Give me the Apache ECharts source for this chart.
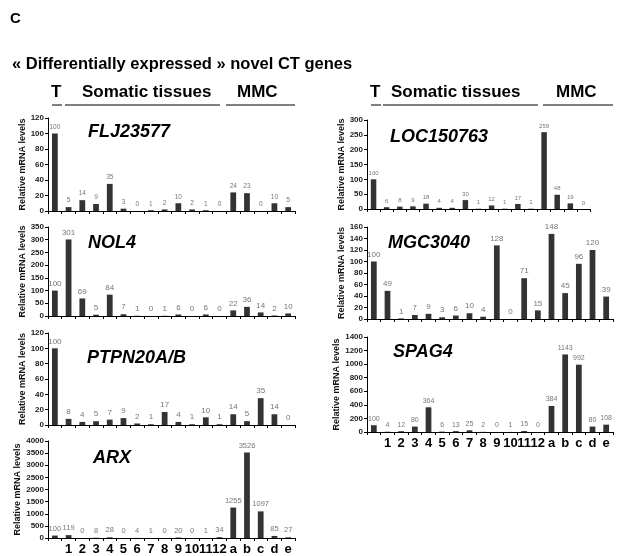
<!DOCTYPE html>
<html><head><meta charset="utf-8">
<script src="https://cdn.jsdelivr.net/npm/echarts@6/dist/echarts.min.js"></script>
<style>html,body{margin:0;padding:0;background:#fff}#c{width:620px;height:556px}</style>
</head><body><div id="c"></div>
<script>
const categories = ['T','1','2','3','4','5','6','7','8','9','10','11','12','a','b','c','d','e'];
const categoriesLOC = categories.slice(0, 17);
const FLJ23577 = [100,5,14,9,35,3,0,1,2,10,2,1,0,24,23,0,10,5];
const NOL4 = [100,301,69,5,84,7,1,0,1,6,0,6,0,22,36,14,2,10];
const PTPN20AB = [100,8,4,5,7,9,2,1,17,4,1,10,1,14,5,35,14,0];
const ARX = [100,119,0,8,28,0,4,1,0,20,0,1,34,1255,3526,1097,85,27];
const LOC150763 = [100,6,8,9,18,4,4,30,1,12,1,17,1,259,48,19,0];
const MGC3040 = [100,49,1,7,9,3,6,10,4,128,0,71,15,148,45,96,120,39];
const SPAG4 = [100,4,12,80,364,6,13,25,2,0,1,15,0,384,1143,992,80,108];

const panels = [
  {name:'FLJ23577', data:FLJ23577, cats:categories, max:120, step:20, grid:{left:48,top:118,width:247,height:93}, gx:83, gy:118, lf:6.5, xl:false},
  {name:'NOL4', data:NOL4, cats:categories, max:350, step:50, grid:{left:48,top:227,width:247,height:89}, gx:83, gy:229, lf:8, xl:false},
  {name:'PTPN20A/B', data:PTPN20AB, cats:categories, max:120, step:20, grid:{left:48,top:333,width:247,height:92}, gx:82, gy:344, lf:8, xl:false},
  {name:'ARX', data:ARX, cats:categories, max:4000, step:500, grid:{left:48,top:441,width:247,height:99}, gx:88, gy:444, lf:7.5, xl:true},
  {name:'LOC150763', data:LOC150763, cats:categoriesLOC, max:300, step:50, grid:{left:367,top:120,width:223,height:89}, gx:385, gy:123, lf:6, xl:false},
  {name:'MGC3040', data:MGC3040, cats:categories, max:160, step:20, grid:{left:367,top:227,width:246,height:92}, gx:383, gy:229, lf:8, xl:false},
  {name:'SPAG4', data:SPAG4, cats:categories, max:1400, step:200, grid:{left:367,top:337,width:246,height:95}, gx:388, gy:338, lf:7, xl:true}
];

const F = 'Liberation Sans, Arial, sans-serif';
const grid = [], xAxis = [], yAxis = [], series = [], title = [];
panels.forEach((p, i) => {
  grid.push(Object.assign({containLabel:false}, p.grid));
  xAxis.push({
    type:'category', gridIndex:i, data:p.cats,
    axisLine:{lineStyle:{color:'#000', width:1}},
    axisTick:{show:true, interval:0, length:3, lineStyle:{color:'#000'}},
    axisLabel:{show:p.xl, interval:0, hideOverlap:false, margin:5, color:'#000', fontFamily:F, fontWeight:'bold', fontSize:13,
      formatter:v => v === 'T' ? '' : v}
  });
  yAxis.push({
    type:'value', gridIndex:i, min:0, max:p.max, interval:p.step,
    name:'Relative mRNA levels', nameLocation:'middle', nameGap:21,
    nameTextStyle:{fontFamily:F, fontWeight:'bold', fontSize:9, color:'#111'},
    axisLine:{show:true, lineStyle:{color:'#000'}},
    axisTick:{show:true, length:3, lineStyle:{color:'#000'}},
    splitLine:{show:false},
    axisLabel:{color:'#222', fontFamily:F, fontWeight:'bold', fontSize:8, margin:4, formatter:v => String(v)}
  });
  series.push({
    type:'bar', xAxisIndex:i, yAxisIndex:i, data:p.data, barWidth:'42%',
    itemStyle:{color:'#333'},
    label:{show:true, position:'top', distance:3, color:'#777', fontFamily:F, fontSize:p.lf}
  });
  title.push({text:p.name, left:p.gx, top:p.gy,
    textStyle:{fontFamily:F, fontWeight:'bold', fontStyle:'italic', fontSize:18, color:'#000'}});
});
title.push({text:'C', left:5, top:6, textStyle:{fontFamily:F, fontWeight:'bold', fontSize:15, color:'#000'}});
title.push({text:'« Differentially expressed » novel CT genes', left:7, top:51, textStyle:{fontFamily:F, fontWeight:'bold', fontSize:16.5, color:'#000'}});

const hdr = (x, y, t) => ({type:'text', left:x, top:y, style:{text:t, fill:'#000', font:'bold 17px ' + F}});
const ln = (x1, x2, y) => ({type:'line', shape:{x1:x1, y1:y, x2:x2, y2:y}, style:{stroke:'#000', lineWidth:1}});
const graphic = [
  hdr(51, 84, 'T'), hdr(82, 84, 'Somatic tissues'), hdr(237, 84, 'MMC'),
  ln(52, 62, 105), ln(65, 220, 105), ln(226, 295, 105),
  hdr(370, 84, 'T'), hdr(391, 84, 'Somatic tissues'), hdr(556, 84, 'MMC'),
  ln(371, 381, 105), ln(383, 538, 105), ln(543, 613, 105)
];

const chart = echarts.init(document.getElementById('c'), null, {renderer:'canvas'});
chart.setOption({animation:false, backgroundColor:'#fff', title, grid, xAxis, yAxis, series, graphic});
</script></body></html>
